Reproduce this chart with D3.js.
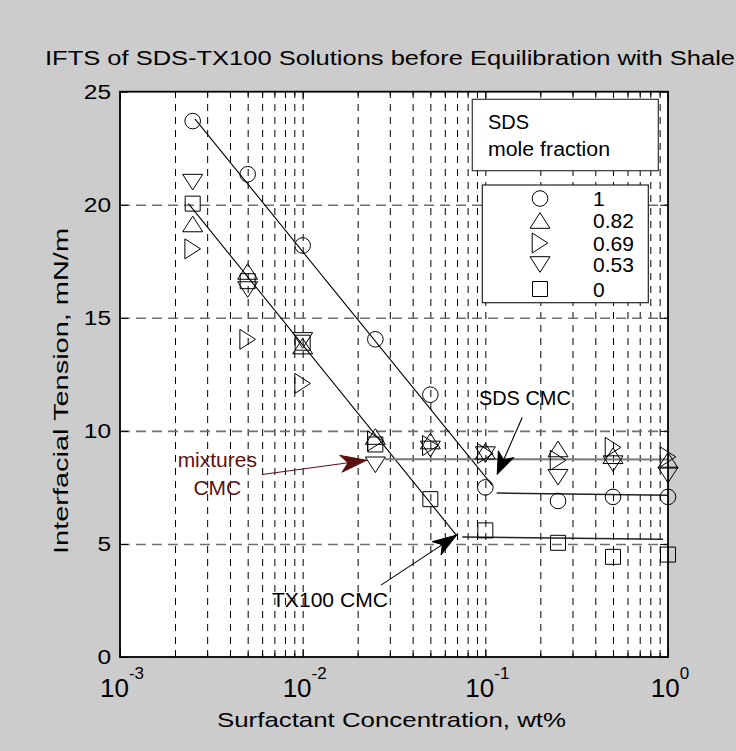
<!DOCTYPE html>
<html>
<head>
<meta charset="utf-8">
<script src="https://cdn.jsdelivr.net/npm/d3@7"></script>
<style>
  body { margin: 0; background: #cccccc; }
  text { font-family: "Liberation Sans", Arial, Helvetica, sans-serif; }
</style>
</head>
<body>
<script>
// Surfactant concentration (wt%) for every series
var conc = [0.0025, 0.005, 0.01, 0.025, 0.05, 0.1, 0.25, 0.5, 1];

// IFT (mN/m) per SDS mole fraction
var iftSds100 = [23.7, 21.35, 18.2, 14.05, 11.6, 7.5, 6.9, 7.08, 7.08];
var iftSds082 = [19.15, 17.05, 13.75, 9.75, 9.55, 9.1, 9.2, 8.9, 8.7];
var iftSds069 = [18.05, 14.05, 12.1, 9.55, 9.35, 9.0, 8.7, 9.27, 8.85];
var iftSds053 = [21.0, 16.25, 14.0, 8.5, 9.2, 8.95, 7.95, 8.55, 8.05];
var iftSds000 = [20.05, 16.62, 13.9, 9.4, 6.98, 5.6, 5.05, 4.43, 4.53];

var legendLabels = ["1", "0.82", "0.69", "0.53", "0"];
var markerTypes = ["circle", "up", "right", "down", "square"];

// fitted trend lines (x in wt%, y in mN/m)
var sdsFitX = [0.00257, 0.109], sdsFitY = [23.8, 7.6];
var tx100FitX = [0.00237, 0.0697], tx100FitY = [20.05, 5.37];
var sdsPlateauX = [0.1153, 1.0], sdsPlateauY = [7.25, 7.15];
var tx100PlateauX = [0.0748, 0.94], tx100PlateauY = [5.31, 5.21];
var mixPlateauX = [0.0282, 1.0], mixPlateauY = [8.75, 8.73];

// tick values
var yTicks = [0, 5, 10, 15, 20, 25];
var xMajor = [1e-3, 1e-2, 1e-1, 1];
var xExponents = ["-3", "-2", "-1", "0"];

var svgWidth = 736, svgHeight = 751;
var plot = { left: 120, right: 668, top: 91.7, bottom: 657 };

var svg = d3.select("body").append("svg")
  .attr("width", svgWidth)
  .attr("height", svgHeight);

svg.append("rect").attr("width", svgWidth).attr("height", svgHeight).attr("fill", "#cccccc");

var x = d3.scaleLog().domain([1e-3, 1]).range([plot.left, plot.right]);
var y = d3.scaleLinear().domain([0, 25]).range([plot.bottom, plot.top]);

svg.append("rect")
  .attr("x", plot.left).attr("y", plot.top)
  .attr("width", plot.right - plot.left).attr("height", plot.bottom - plot.top)
  .attr("fill", "white");

// minor + major log grid positions (without the edges)
var xGrid = [];
[1e-3, 1e-2, 1e-1].forEach(function(dec) {
  for (var k = 1; k <= 9; k++) xGrid.push(dec * k);
});
xGrid = xGrid.filter(function(v) { return v > 1.0001e-3; }).concat([]);
var xMinor = xGrid.filter(function(v, i) { return Math.abs(Math.log10(v) % 1) > 1e-6; });

// vertical dashed grid
svg.append("g")
  .attr("transform", "translate(0," + plot.bottom + ")")
  .call(d3.axisBottom(x).tickValues(xGrid).tickSize(-(plot.bottom - plot.top)).tickFormat(""))
  .call(function(g) {
    g.select(".domain").remove();
    g.selectAll("line").attr("stroke", "#000").attr("stroke-width", 1).attr("stroke-dasharray", "7,6");
  });

// horizontal dashed grid
svg.append("g")
  .attr("transform", "translate(" + plot.left + ",0)")
  .call(d3.axisLeft(y).tickValues([5, 10, 15, 20]).tickSize(-(plot.right - plot.left)).tickFormat(""))
  .call(function(g) {
    g.select(".domain").remove();
    g.selectAll("line").attr("stroke", "#6e6e6e").attr("stroke-width", 1.6).attr("stroke-dasharray", "10,6");
  });

// inward ticks on all four sides
function ticks(axisFn, scale, vals, size, tr) {
  svg.append("g").attr("transform", tr)
    .call(axisFn(scale).tickValues(vals).tickSize(size).tickFormat(""))
    .call(function(g) { g.select(".domain").remove(); g.selectAll("line").attr("stroke", "#000"); });
}
ticks(d3.axisTop, x, xMajor, 8, "translate(0," + plot.bottom + ")");
ticks(d3.axisTop, x, xMinor, 4, "translate(0," + plot.bottom + ")");
ticks(d3.axisBottom, x, xMajor, 8, "translate(0," + plot.top + ")");
ticks(d3.axisBottom, x, xMinor, 4, "translate(0," + plot.top + ")");
ticks(d3.axisRight, y, yTicks, 8, "translate(" + plot.left + ",0)");
ticks(d3.axisLeft, y, yTicks, 8, "translate(" + plot.right + ",0)");

// trend lines
var line = d3.line().x(function(d) { return x(d[0]); }).y(function(d) { return y(d[1]); });
function trend(xs, ys, color, width) {
  svg.append("path")
    .attr("d", line(d3.zip(xs, ys)))
    .attr("fill", "none").attr("stroke", color).attr("stroke-width", width);
}
trend(sdsFitX, sdsFitY, "#000", 1.1);
trend(tx100FitX, tx100FitY, "#000", 1.1);
trend(mixPlateauX, mixPlateauY, "#7a7a7a", 2);
trend(sdsPlateauX, sdsPlateauY, "#222", 1.4);
trend(tx100PlateauX, tx100PlateauY, "#222", 1.4);

// marker shapes
function markerPath(type) {
  var r = 7.8, w = 10;
  if (type === "circle") return d3.path ? (function() { var p = d3.path(); p.moveTo(r, 0); p.arc(0, 0, r, 0, 2 * Math.PI); return p.toString(); })() : "";
  if (type === "square") return "M-7.5,-7.5H7.5V7.5H-7.5Z";
  if (type === "up") return "M0," + (-r) + "L" + w + "," + r + "L" + (-w) + "," + r + "Z";
  if (type === "down") return "M" + (-w) + "," + (-r) + "L" + w + "," + (-r) + "L0," + r + "Z";
  if (type === "right") return "M" + (-r) + "," + (-w) + "L" + r + ",0L" + (-r) + "," + w + "Z";
}

var seriesValues = [iftSds100, iftSds082, iftSds069, iftSds053, iftSds000];
seriesValues.forEach(function(vals, i) {
  svg.append("g").selectAll("path")
    .data(d3.zip(conc, vals))
    .enter().append("path")
    .attr("transform", function(d) { return "translate(" + x(d[0]) + "," + y(d[1]) + ")"; })
    .attr("d", markerPath(markerTypes[i]))
    .attr("fill", "none")
    .attr("stroke", "#000")
    .attr("stroke-width", 1);
});

// axes box
svg.append("rect")
  .attr("x", plot.left).attr("y", plot.top)
  .attr("width", plot.right - plot.left).attr("height", plot.bottom - plot.top)
  .attr("fill", "none").attr("stroke", "#000").attr("stroke-width", 1.8);

// text helper
function txt(str, px, py, size, opts) {
  opts = opts || {};
  var t = svg.append("text")
    .attr("x", px).attr("y", py)
    .attr("font-size", size)
    .attr("fill", opts.color || "#000")
    .attr("text-anchor", opts.anchor || "start")
    .text(str);
  if (opts.length) t.attr("textLength", opts.length).attr("lengthAdjust", "spacingAndGlyphs");
  if (opts.transform) t.attr("transform", opts.transform);
  return t;
}

// y tick labels
yTicks.forEach(function(v) {
  var s = String(v);
  txt(s, 111, y(v) + 7.2, 20, { anchor: "end", length: s.length * 13.6 });
});

// x tick labels 10^n
xMajor.forEach(function(v, i) {
  var t = svg.append("text")
    .attr("x", x(v) + 2).attr("y", 697)
    .attr("text-anchor", "middle")
    .attr("font-size", 26);
  t.append("tspan").text("10");
  t.append("tspan").attr("font-size", 17).attr("dy", -18).text(xExponents[i]);
});

// titles
txt("IFTS of SDS-TX100 Solutions before Equilibration with Shale", 390, 65, 20, { anchor: "middle", length: 690 });
txt("Surfactant Concentration, wt%", 391.5, 727, 21, { anchor: "middle", length: 349 });
txt("Interfacial Tension, mN/m", 0, 0, 21, { anchor: "middle", length: 326, transform: "translate(68,391) rotate(-90)" });

// legend header box
svg.append("rect").attr("x", 472.3).attr("y", 99.3).attr("width", 186).attr("height", 71.4)
  .attr("fill", "white").attr("stroke", "#333").attr("stroke-width", 1.2);
txt("SDS", 488, 129, 20, { length: 41 });
txt("mole fraction", 488, 156, 20, { length: 122 });

// legend entries
var legend = svg.append("g");
legend.append("rect").attr("x", 482.3).attr("y", 185).attr("width", 166).attr("height", 117.7)
  .attr("fill", "white").attr("stroke", "#222").attr("stroke-width", 1.2);
var legendRowY = [198.5, 220.5, 243, 264.5, 289];
legendLabels.forEach(function(lab, i) {
  legend.append("path")
    .attr("transform", "translate(540," + legendRowY[i] + ")")
    .attr("d", markerPath(markerTypes[i]))
    .attr("fill", "none").attr("stroke", "#000");
  txt(lab, 593, legendRowY[i] + 7.5, 21);
});

// annotations with arrows
function arrow(from, to, color, len, wid) {
  var x0 = x(from[0]), y0 = y(from[1]), x1 = x(to[0]), y1 = y(to[1]);
  var ang = Math.atan2(y1 - y0, x1 - x0);
  svg.append("line").attr("x1", x0).attr("y1", y0).attr("x2", x1).attr("y2", y1)
    .attr("stroke", color).attr("stroke-width", 1.1);
  var pts = [[0, 0], [-len, wid / 2], [-len * 0.72, 0], [-len, -wid / 2]].map(function(p) {
    return [x1 + p[0] * Math.cos(ang) - p[1] * Math.sin(ang), y1 + p[0] * Math.sin(ang) + p[1] * Math.cos(ang)];
  });
  svg.append("path").attr("d", "M" + pts.join("L") + "Z").attr("fill", color).attr("stroke", color);
}

var maroon = "#5c1010";
arrow([0.00601, 8.07], [0.02239, 8.70], maroon, 26, 17);
txt("mixtures", x(0.00341), y(8.39), 21, { anchor: "middle", color: maroon });
txt("CMC", x(0.00341), y(7.16), 21, { anchor: "middle", color: maroon });

arrow([0.1592, 10.59], [0.1162, 8.08], "#000", 22, 17);
txt("SDS CMC", x(0.1647), y(11.13), 20.5, { anchor: "middle", length: 92 });

arrow([0.02683, 3.18], [0.0697, 5.39], "#000", 24, 16);
txt("TX100 CMC", x(0.01411), y(2.21), 20.5, { anchor: "middle", length: 116 });
</script>
</body>
</html>
